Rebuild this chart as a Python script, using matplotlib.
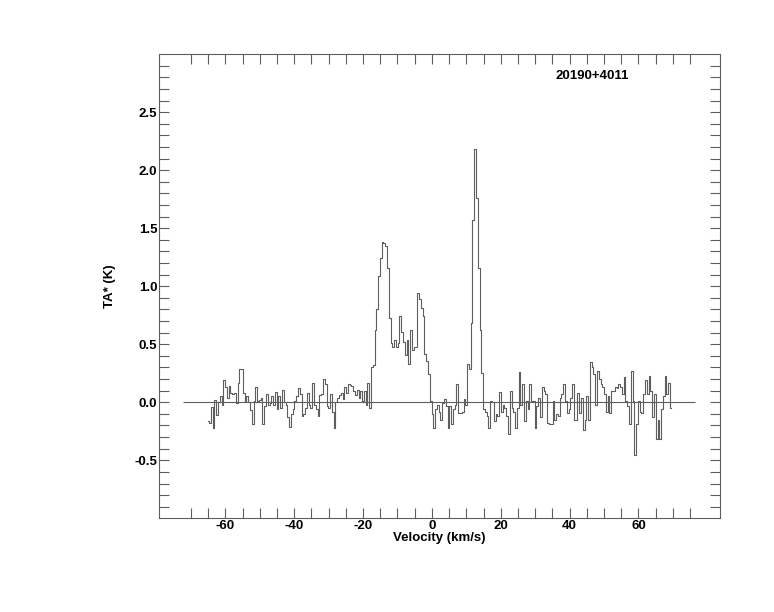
import numpy as np
import matplotlib
matplotlib.use('Agg')
import matplotlib.pyplot as plt
from matplotlib.ticker import FixedLocator, FormatStrFormatter

# source name and spectrum (TA* in K), channels start at v_start with step dv
source = '20190+4011'
v_start = -65.0
dv = 0.517
ta = [
    -0.16, -0.18, -0.04, -0.22, 0.02, -0.11, 0.00, 0.05, -0.02, 0.19,
    0.13, 0.04, 0.14, 0.08, 0.07, 0.08, -0.01, 0.17, 0.29, 0.29,
    0.08, 0.00, 0.05, 0.00, -0.07, -0.19, 0.01, 0.13, 0.01, 0.02,
    0.04, -0.19, -0.03, 0.07, -0.02, -0.01, 0.05, -0.02, 0.09, -0.06,
    0.05, -0.05, 0.11, 0.00, -0.02, -0.13, -0.21, -0.10, -0.06, 0.01,
    0.05, 0.12, 0.07, -0.12, -0.10, -0.05, 0.08, -0.02, -0.05, 0.17,
    -0.02, -0.06, -0.12, 0.06, 0.07, 0.20, 0.16, -0.03, -0.05, 0.07,
    -0.08, -0.22, 0.00, 0.04, 0.06, 0.08, 0.03, 0.13, 0.08, 0.16,
    0.15, 0.14, 0.10, 0.06, 0.11, 0.04, 0.10, 0.01, 0.10, -0.02,
    0.17, -0.05, 0.30, 0.32, 0.62, 0.80, 1.09, 1.24, 1.38, 1.37,
    1.35, 1.16, 0.73, 0.51, 0.48, 0.54, 0.48, 0.51, 0.74, 0.61,
    0.52, 0.41, 0.54, 0.33, 0.62, 0.45, 0.48, 0.48, 0.94, 0.89,
    0.81, 0.74, 0.42, 0.36, 0.24, 0.01, -0.10, -0.22, -0.06, -0.02,
    -0.08, -0.15, -0.01, 0.03, -0.03, -0.22, -0.03, -0.19, -0.06, -0.02,
    0.16, -0.09, -0.09, -0.08, 0.03, -0.02, 0.33, 0.29, 0.68, 1.57,
    2.18, 1.76, 1.16, 0.62, 0.25, -0.06, -0.08, -0.12, -0.22, 0.01,
    0.00, -0.16, -0.10, -0.12, 0.09, -0.08, -0.02, -0.05, -0.12, -0.27,
    0.10, -0.05, -0.08, -0.22, -0.05, 0.26, -0.02, 0.16, -0.16, 0.01,
    -0.06, 0.16, 0.01, 0.01, -0.22, -0.03, 0.04, -0.13, 0.13, 0.10,
    0.07, -0.18, -0.19, -0.19, 0.01, -0.15, -0.10, -0.12, 0.04, 0.07,
    0.16, 0.01, -0.09, -0.06, 0.04, 0.16, -0.15, -0.15, 0.08, -0.09,
    0.04, -0.24, -0.15, 0.05, -0.15, 0.35, 0.30, 0.24, -0.02, 0.27,
    0.20, 0.16, 0.13, 0.07, -0.08, 0.05, -0.09, 0.10, 0.10, 0.13,
    0.12, 0.16, 0.13, 0.07, 0.22, 0.01, -0.03, -0.19, 0.27, 0.01,
    -0.45, -0.19, 0.01, -0.08, -0.09, 0.07, 0.19, 0.07, 0.23, 0.10,
    -0.13, 0.07, -0.32, -0.15, -0.32, -0.06, 0.05, 0.23, 0.07, 0.17,
    -0.05,
]
baseline_range = (-72.3, 76.4)
x_major = [-60, -40, -20, 0, 20, 40, 60]
y_major = [-0.5, 0.0, 0.5, 1.0, 1.5, 2.0, 2.5]

ta = np.array(ta)
vel = v_start + dv * np.arange(len(ta))

grey = '#5e5e5e'
plt.rcParams['font.family'] = ['Liberation Sans', 'DejaVu Sans']
plt.rcParams['font.weight'] = 'bold'
plt.rcParams['axes.unicode_minus'] = False

fig = plt.figure(figsize=(7.74, 6.12), dpi=100)
ax = fig.add_axes([0.2058, 0.1531, 0.7240, 0.7582])

ax.step(vel, ta, where='mid', color=grey, lw=0.8)
ax.hlines(0, baseline_range[0], baseline_range[1], color=grey, lw=0.8)

ax.set_xlim(-79.2, 83.6)
ax.set_ylim(-1.0, 3.0)
ax.xaxis.set_major_locator(FixedLocator(x_major))
ax.xaxis.set_minor_locator(FixedLocator(np.arange(-70, 76, 5)))
ax.yaxis.set_major_locator(FixedLocator(y_major))
ax.yaxis.set_minor_locator(FixedLocator(np.arange(-0.9, 2.95, 0.1)))
ax.yaxis.set_major_formatter(FormatStrFormatter('%.1f'))

ax.tick_params(which='both', direction='in', length=7, width=0.8, color=grey,
               top=True, right=True, labelsize=9.5, pad=1.5)
for s in ax.spines.values():
    s.set_color(grey)
    s.set_linewidth(0.8)

ax.set_xlabel('Velocity (km/s)', fontsize=9.5, fontweight='bold', labelpad=-0.5)
ax.set_ylabel('TA* (K)', fontsize=9.5, fontweight='bold', labelpad=13)
fig.text(0.765, 0.876, source, ha='center', va='center', fontsize=9.5, fontweight='bold')

fig.savefig('out.png', dpi=100)
